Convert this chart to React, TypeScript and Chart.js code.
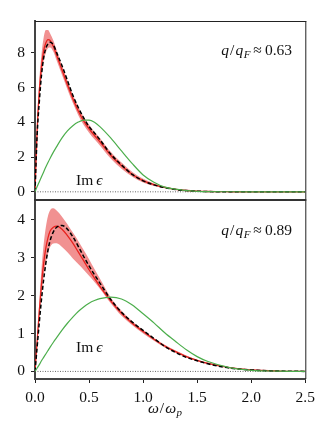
import React, { useEffect, useRef } from "react";
import { Chart, registerables } from "chart.js";
Chart.register(...registerables);

// ---------- data ----------
const omega = [0, 0.02, 0.04, 0.06, 0.08, 0.1, 0.12, 0.14, 0.17, 0.2, 0.25, 0.3, 0.35, 0.4, 0.45, 0.5, 0.55, 0.6, 0.7, 0.8, 0.9, 1.0, 1.1, 1.2, 1.3, 1.4, 1.5, 1.6, 1.8, 2.0, 2.25, 2.5];

// top panel q/qF ≈ 0.63
const topBlack = [0, 3.3, 5.2, 6.7, 7.7, 8.25, 8.5, 8.6, 8.45, 8.0, 7.25, 6.4, 5.55, 4.85, 4.25, 3.75, 3.38, 3.0, 2.17, 1.55, 1.0, 0.63, 0.4, 0.24, 0.13, 0.07, 0.035, 0.015, 0.005, 0, 0, 0];
const topRed = [0, 3.6, 5.8, 7.2, 8.1, 8.55, 8.75, 8.7, 8.35, 7.85, 7.0, 6.15, 5.35, 4.65, 4.08, 3.62, 3.24, 2.88, 2.1, 1.5, 1.0, 0.64, 0.41, 0.25, 0.14, 0.075, 0.04, 0.02, 0.005, 0, 0, 0];
const topUpper = [0, 4.0, 6.4, 7.9, 8.85, 9.3, 9.3, 9.1, 8.7, 8.15, 7.28, 6.42, 5.6, 4.9, 4.32, 3.85, 3.46, 3.1, 2.3, 1.68, 1.14, 0.75, 0.48, 0.3, 0.17, 0.09, 0.05, 0.025, 0.008, 0, 0, 0];
const topLower = [0, 3.2, 5.2, 6.6, 7.5, 8.0, 8.25, 8.3, 8.05, 7.55, 6.72, 5.88, 5.1, 4.4, 3.84, 3.4, 3.02, 2.67, 1.92, 1.33, 0.87, 0.54, 0.34, 0.2, 0.11, 0.06, 0.03, 0.015, 0.003, 0, 0, 0];
const topGreen = [0, 0.3, 0.58, 0.86, 1.14, 1.42, 1.68, 1.93, 2.28, 2.6, 3.1, 3.5, 3.8, 4.01, 4.12, 4.12, 4.0, 3.75, 3.1, 2.35, 1.62, 0.97, 0.55, 0.27, 0.15, 0.07, 0.03, 0.012, 0.003, 0, 0, 0];

// bottom panel q/qF ≈ 0.89
const botBlack = [0, 0.65, 1.3, 1.9, 2.42, 2.85, 3.2, 3.45, 3.68, 3.8, 3.85, 3.75, 3.55, 3.3, 3.03, 2.78, 2.55, 2.33, 1.9, 1.56, 1.3, 1.08, 0.87, 0.66, 0.5, 0.37, 0.28, 0.2, 0.09, 0.04, 0.01, 0];
const botRed = [0, 0.8, 1.6, 2.3, 2.85, 3.25, 3.52, 3.7, 3.8, 3.83, 3.75, 3.58, 3.38, 3.15, 2.92, 2.68, 2.46, 2.24, 1.86, 1.53, 1.27, 1.05, 0.85, 0.67, 0.52, 0.39, 0.29, 0.21, 0.1, 0.04, 0.01, 0];
const botUpper = [0, 0.9, 1.85, 2.7, 3.35, 3.8, 4.1, 4.25, 4.3, 4.24, 4.08, 3.88, 3.66, 3.44, 3.2, 2.96, 2.7, 2.45, 1.95, 1.6, 1.32, 1.09, 0.88, 0.7, 0.55, 0.42, 0.31, 0.23, 0.11, 0.05, 0.012, 0];
const botLower = [0, 0.7, 1.4, 2.0, 2.5, 2.85, 3.1, 3.28, 3.37, 3.38, 3.28, 3.14, 2.98, 2.83, 2.68, 2.52, 2.36, 2.18, 1.8, 1.47, 1.22, 1.0, 0.81, 0.63, 0.49, 0.37, 0.27, 0.19, 0.09, 0.03, 0.008, 0];
const botGreen = [0, 0.09, 0.18, 0.28, 0.37, 0.46, 0.55, 0.64, 0.77, 0.89, 1.09, 1.27, 1.43, 1.58, 1.7, 1.8, 1.87, 1.92, 1.96, 1.91, 1.75, 1.52, 1.28, 1.02, 0.79, 0.57, 0.39, 0.26, 0.1, 0.03, 0.008, 0];

const zeroLineX = [0, 2.5];
const zeroLineY = [0, 0];

const xTicks = [0, 0.5, 1.0, 1.5, 2.0, 2.5];
const topYTicks = [0, 2, 4, 6, 8];
const botYTicks = [0, 1, 2, 3, 4];
const topQ = "0.63";
const botQ = "0.89";

// ---------- layout / style ----------
const W = 332;
const H = 443;
const LEFT = 35;
const RIGHT = 305.3;
const TOP1 = 21;
const MID = 200;
const BOTTOM2 = 379;
const FAM = '"Liberation Serif", "DejaVu Serif", serif';
const FS = 15.5;
const RED = "#e8231f";
const BAND = "rgba(232,78,78,0.62)";
const GREEN = "#4cae4c";

Chart.defaults.font.family = FAM;
Chart.defaults.font.size = FS;

type Run = { t: string; italic?: boolean; sub?: boolean; dx?: number };

function drawRuns(ctx: CanvasRenderingContext2D, runs: Run[], x: number, y: number, align: string, size: number) {
  const fontFor = (r: Run) => `${r.italic ? "italic " : ""}${r.sub ? Math.round(size * 0.7) : size}px ${FAM}`;
  let total = 0;
  const widths = runs.map((r) => {
    ctx.font = fontFor(r);
    const w = ctx.measureText(r.t).width + (r.dx || 0);
    total += w;
    return w;
  });
  let cx = align === "right" ? x - total : align === "center" ? x - total / 2 : x;
  ctx.textAlign = "left";
  ctx.textBaseline = "alphabetic";
  ctx.fillStyle = "#111";
  runs.forEach((r, i) => {
    ctx.font = fontFor(r);
    ctx.fillText(r.t, cx, r.sub ? y + size * 0.22 : y);
    cx += widths[i];
  });
}

function pts(ys: number[]) {
  return omega.map((x, i) => ({ x, y: ys[i] }));
}

function makeConfig(isTop: boolean): any {
  const green = isTop ? topGreen : botGreen;
  const black = isTop ? topBlack : botBlack;
  const red = isTop ? topRed : botRed;
  const upper = isTop ? topUpper : botUpper;
  const lower = isTop ? topLower : botLower;
  const yTicks = isTop ? topYTicks : botYTicks;
  const q = isTop ? topQ : botQ;

  const framePlugin = {
    id: "frame" + (isTop ? "T" : "B"),
    afterDraw(chart: any) {
      const ctx = chart.ctx as CanvasRenderingContext2D;
      const a = chart.chartArea;
      ctx.save();
      ctx.strokeStyle = "#222";
      ctx.lineWidth = 1;
      ctx.beginPath();
      ctx.moveTo(a.right + 0.5, a.top);
      ctx.lineTo(a.right + 0.5, a.bottom);
      if (isTop) {
        ctx.moveTo(a.left, a.top + 0.5);
        ctx.lineTo(a.right + 1, a.top + 0.5);
      }
      ctx.stroke();
      if (isTop) {
        ctx.strokeStyle = "#333";
        ctx.lineWidth = 2;
        ctx.beginPath();
        ctx.moveTo(a.left - 1, a.bottom);
        ctx.lineTo(a.right + 1, a.bottom);
        ctx.stroke();
      }
      // annotations
      const qy = isTop ? 55 : 235;
      drawRuns(ctx, [
        { t: "q", italic: true, dx: 1 },
        { t: "/", dx: 1 },
        { t: "q", italic: true, dx: 0.5 },
        { t: "F", italic: true, sub: true, dx: 3 },
        { t: "\u2248", dx: 3 },
        { t: q },
      ], 292, qy, "right", FS);
      const iy = isTop ? 185 : 352;
      drawRuns(ctx, [{ t: "Im", dx: 3 }, { t: "\u03f5", italic: true }], 76, iy, "left", FS);
      if (!isTop) {
        drawRuns(ctx, [
          { t: "\u03c9", italic: true, dx: 1 },
          { t: "/", dx: 1 },
          { t: "\u03c9", italic: true, dx: 0.5 },
          { t: "p", italic: true, sub: true },
        ], 165, 413, "center", FS);
      }
      ctx.restore();
    },
  };

  const common = { pointRadius: 0, cubicInterpolationMode: "monotone", fill: false };
  const tickFont = { family: FAM, size: FS };

  return {
    type: "line",
    data: {
      datasets: [
        { ...common, data: pts(green), borderColor: GREEN, borderWidth: 1.2 },
        { ...common, data: pts(black), borderColor: "#000", borderWidth: 1.5, borderDash: [4, 2.3] },
        { ...common, data: pts(red), borderColor: RED, borderWidth: 1.3 },
        { ...common, data: pts(upper), borderColor: "rgba(0,0,0,0)", borderWidth: 0, backgroundColor: BAND, fill: "+1" },
        { ...common, data: pts(lower), borderColor: "rgba(0,0,0,0)", borderWidth: 0 },
        {
          ...common,
          data: zeroLineX.map((x, i) => ({ x, y: zeroLineY[i] })),
          borderColor: "#666",
          borderWidth: 1,
          borderDash: [1, 1.5],
        },
      ],
    },
    options: {
      animation: false,
      responsive: false,
      devicePixelRatio: 1,
      events: [],
      layout: {
        padding: {
          left: 0,
          right: W - RIGHT,
          top: isTop ? TOP1 : MID,
          bottom: isTop ? H - MID : 0,
        },
      },
      plugins: { legend: { display: false }, tooltip: { enabled: false }, title: { display: false } },
      scales: {
        x: {
          type: "linear",
          min: 0,
          max: 2.5,
          display: !isTop,
          afterBuildTicks: (s: any) => {
            s.ticks = xTicks.map((v) => ({ value: v }));
          },
          afterFit: (s: any) => {
            s.height = isTop ? 0 : H - BOTTOM2;
          },
          ticks: {
            callback: (v: any) => Number(v).toFixed(1),
            font: tickFont,
            color: "#111",
            padding: 6,
            maxRotation: 0,
            autoSkip: false,
          },
          grid: { drawOnChartArea: false, drawTicks: true, tickLength: 4, color: "#222", tickWidth: 1 },
          border: { display: true, width: 2, color: "#444" },
        },
        y: {
          type: "linear",
          min: isTop ? -0.47 : -0.2,
          max: isTop ? 9.82 : 4.52,
          afterBuildTicks: (s: any) => {
            s.ticks = yTicks.map((v) => ({ value: v }));
          },
          afterFit: (s: any) => {
            s.width = LEFT;
          },
          ticks: { font: tickFont, color: "#111", padding: 6, callback: (v: any) => String(v) },
          grid: { drawOnChartArea: false, drawTicks: true, tickLength: 4, color: "#222", tickWidth: 1 },
          border: { display: true, width: 2, color: "#444" },
        },
      },
    },
    plugins: [framePlugin],
  };
}

export default function App() {
  const topRef = useRef<HTMLCanvasElement>(null);
  const botRef = useRef<HTMLCanvasElement>(null);

  useEffect(() => {
    const c1 = new Chart(topRef.current as HTMLCanvasElement, makeConfig(true));
    const c2 = new Chart(botRef.current as HTMLCanvasElement, makeConfig(false));
    return () => {
      c1.destroy();
      c2.destroy();
    };
  }, []);

  const canvasStyle: React.CSSProperties = { position: "absolute", left: 0, top: 0, width: W, height: H };
  return (
    <div style={{ position: "fixed", left: 0, top: 0, width: W, height: H, background: "#fff", overflow: "hidden" }}>
      <canvas ref={botRef} width={W} height={H} style={canvasStyle} />
      <canvas ref={topRef} width={W} height={H} style={canvasStyle} />
    </div>
  );
}
